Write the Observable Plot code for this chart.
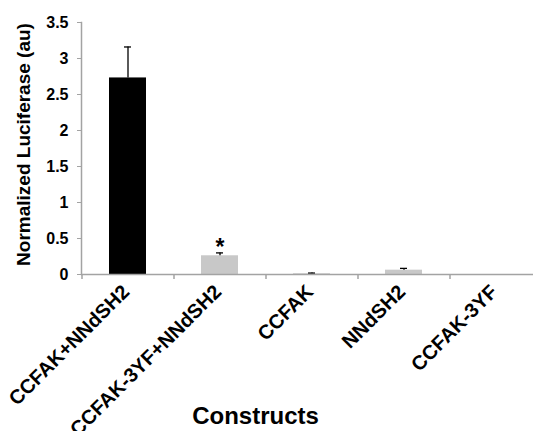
<!DOCTYPE html>
<html>
<head>
<meta charset="utf-8">
<script src="https://cdn.jsdelivr.net/npm/d3@7"></script>
<script src="https://cdn.jsdelivr.net/npm/@observablehq/plot@0.6"></script>
<style>
  html, body { margin: 0; padding: 0; background: #fff; overflow: hidden; }
  svg { font-family: Arial, "Liberation Sans", sans-serif; }
</style>
</head>
<body>
<div id="chart"></div>
<script>
const categories = ["CCFAK+NNdSH2", "CCFAK-3YF+NNdSH2", "CCFAK", "NNdSH2", "CCFAK-3YF"];
const means = [2.73, 0.26, 0.01, 0.06, 0.0];
const errors = [0.43, 0.04, 0.01, 0.025, 0.0];
const marks = ["", "*", "", "", ""];
const yTicks = [0, 0.5, 1, 1.5, 2, 2.5, 3, 3.5];
const yTickLabels = ["0", "0.5", "1", "1.5", "2", "2.5", "3", "3.5"];
const yTitle = "Normalized Luciferase (au)";
const xTitle = "Constructs";

const data = categories.map((c, i) => ({cat: c, mean: means[i], err: errors[i], mark: marks[i]}));

const W = 533, H = 431, ML = 81, MR = -8, MT = 22, MB = 157;
const step = (W - ML - MR) / categories.length;
const axisGray = "#a3a3a3";

const chart = Plot.plot({
  width: W,
  height: H,
  marginLeft: ML,
  marginRight: MR,
  marginTop: MT,
  marginBottom: MB,
  style: {fontFamily: "Arial, 'Liberation Sans', sans-serif", background: "#fff"},
  x: {domain: categories, paddingInner: 0.6, paddingOuter: 0.3, label: null},
  y: {domain: [0, 3.5], label: null},
  marks: [
    Plot.barY(data, {x: "cat", y: "mean", fill: d => d.cat === categories[0] ? "#000000" : "#c8c8c8"}),
    Plot.ruleX(data.filter(d => d.err > 0), {x: "cat", y1: "mean", y2: d => d.mean + d.err, stroke: "#000", strokeWidth: 1.3}),
    Plot.tickY(data.filter(d => d.err > 0), {x: "cat", y: d => d.mean + d.err, stroke: "#000", strokeWidth: 1.3, insetLeft: 15, insetRight: 15}),
    Plot.text(data.filter(d => d.mark), {x: "cat", y: d => d.mean + d.err, text: "mark", fontSize: 23, fontWeight: "bold", lineAnchor: "bottom", dy: 2, fill: "#000"}),
    Plot.frame({anchor: "left", stroke: axisGray, strokeWidth: 1.5}),
    Plot.ruleY([0], {stroke: axisGray, strokeWidth: 1.5}),
    Plot.axisY({ticks: yTicks, tickFormat: (d) => yTickLabels[yTicks.indexOf(d)], tickSize: 4, tickPadding: 9, stroke: axisGray, fill: "#000", fontSize: 16, fontWeight: "bold", label: null}),
    Plot.axisX({ticks: categories, tickSize: 5, text: null, dx: -step / 2, stroke: axisGray, strokeWidth: 1.5, label: null}),
    Plot.axisX({tickSize: 0, tickRotate: -45, tickPadding: 14, dx: -2, fontSize: 20, fontWeight: "bold", fill: "#000", label: null}),
    Plot.text([yTitle], {frameAnchor: "left", textAnchor: "middle", rotate: -90, dx: -58, dy: -4, fontSize: 19, fontWeight: "bold", fill: "#000"}),
    Plot.text([xTitle], {frameAnchor: "bottom", dy: 149, dx: -56, fontSize: 24, fontWeight: "bold", fill: "#000"})
  ]
});
document.getElementById("chart").appendChild(chart);
</script>
</body>
</html>
